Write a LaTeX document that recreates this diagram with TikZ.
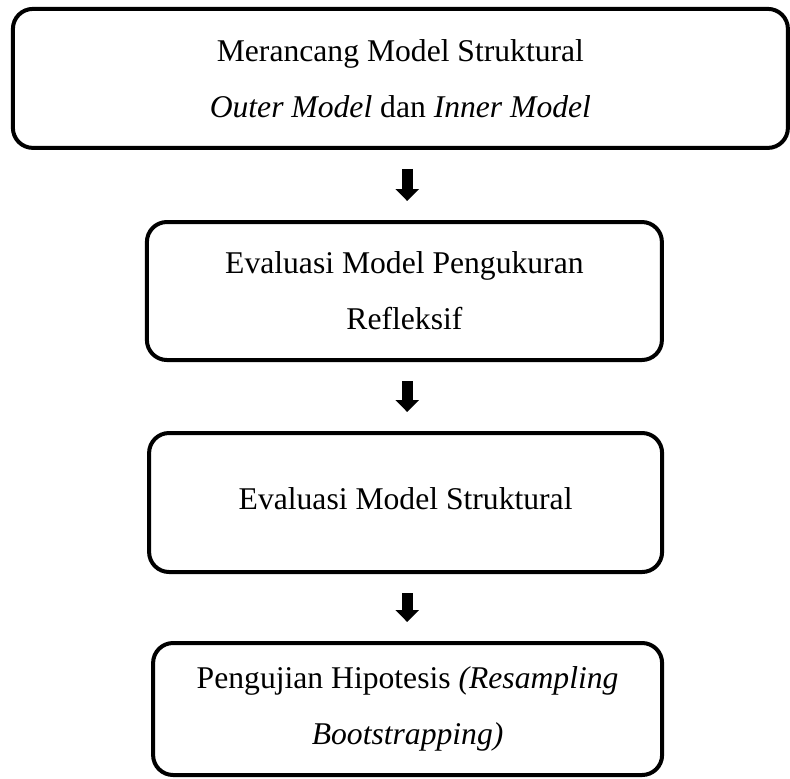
\documentclass[tikz,border=0pt]{standalone}
\usepackage{fontspec}
\setmainfont{Liberation Serif}
\usetikzlibrary{arrows.meta}

\begin{document}
\begin{tikzpicture}[
    stepbox/.style={draw, line width=0.1cm, rounded corners=0.5cm, align=center,
      inner sep=0pt, font=\fontsize{22.5}{40}\selectfont},
    downarrow/.style={line width=0.275cm,
      -{Triangle[width=0.575cm, length=0.3cm]}, shorten <=0.475cm, shorten >=0.475cm}
  ]
      \useasboundingbox (0, 0) rectangle (19.75, -19.45);
      \node[stepbox, minimum width=19.375cm, minimum height=3.475cm] (desain) at (10.01, -1.96)
        {Merancang Model Struktural\\ \textit{Outer Model} dan \textit{Inner Model}};
      \node[stepbox, minimum width=12.875cm, minimum height=3.45cm] (ukur) at (10.11, -7.275)
        {Evaluasi Model Pengukuran\\ Refleksif};
      \node[stepbox, minimum width=12.825cm, minimum height=3.475cm] (struktur) at (10.14, -12.5625)
        {\raisebox{0.18cm}{Evaluasi Model Struktural}};
      \node[stepbox, minimum width=12.725cm, minimum height=3.3cm] (uji) at (10.19, -17.725)
        {Pengujian Hipotesis \textit{(Resampling}\\ \textit{Bootstrapping)}};
      \draw[downarrow] (desain.south -| 10.18, 0) -- (ukur.north -| 10.18, 0);
      \draw[downarrow] (ukur.south -| 10.18, 0) -- (struktur.north -| 10.18, 0);
      \draw[downarrow] (struktur.south -| 10.18, 0) -- (uji.north -| 10.18, 0);
    \end{tikzpicture}
\end{document}
